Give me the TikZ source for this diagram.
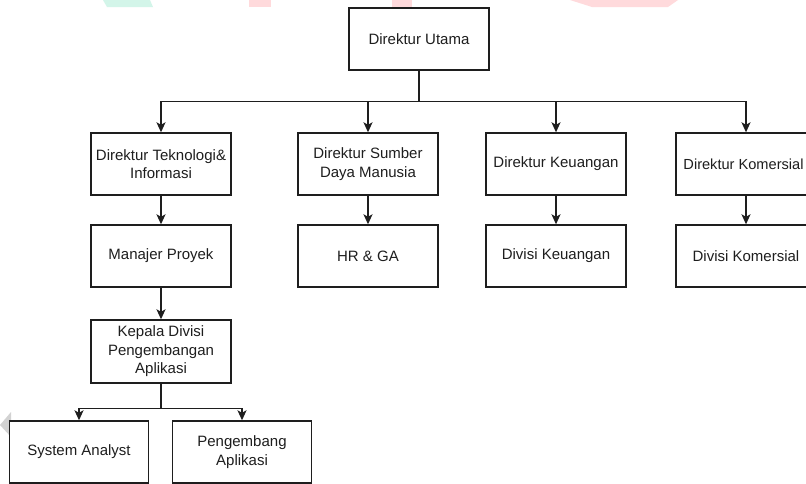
\documentclass[tikz,border=0pt]{standalone}
\usepackage{fontspec}
\setmainfont{Liberation Sans}
\usetikzlibrary{arrows.meta}
\definecolor{wmgreen}{HTML}{D3F5E9}
\definecolor{wmpink}{HTML}{FFDADC}
\definecolor{wmgrey}{HTML}{D2D2D2}
\definecolor{linec}{HTML}{1E1E1E}
\tikzset{
  orgbox/.style={draw=linec, line width=1.4pt, fill=white, minimum width=140pt, minimum height=62pt,
    align=center, inner sep=2pt, text=linec, font=\fontsize{15}{18.5}\selectfont},
  arr/.style={draw=linec, line width=1.4pt, -{Stealth[length=10pt,width=9pt,inset=2.5pt]}},
  ln/.style={draw=linec, line width=1.4pt}
}
\begin{document}
\begin{tikzpicture}[x=1pt,y=-1pt]
\useasboundingbox (0,0) rectangle (806,483);
\clip (0,0) rectangle (806,483);
\fill[white] (0,0) rectangle (806,483);
% faint watermark fragments
\fill[wmgreen] (103,0) -- (150,0) -- (153,7) -- (107,7) -- cycle;
\fill[wmpink] (249,0) rectangle (271,7);
\fill[wmpink] (392,0) rectangle (412,7);
\fill[wmpink] (570,0) -- (678,0) -- (668,7) -- (592,7) -- cycle;
\fill[wmgrey] (11,412) -- (0,425) -- (11,437) -- cycle;

\node[orgbox] (du) at (419,39) {Direktur Utama};

\node[orgbox] (dti) at (161,164) {Direktur Teknologi\&\\Informasi};
\node[orgbox] (dsdm) at (368,164) {Direktur Sumber\\Daya Manusia};
\node[orgbox] (dk) at (556,164) {Direktur Keuangan};
\node[orgbox] (dkom) at (746,164) {};
\node[text=linec, font=\fontsize{14.6}{18}\selectfont, inner sep=0pt] (dkomt) at (743.5,164) {Direktur Komersial};

\node[orgbox] (mp) at (161,256) {Manajer Proyek};
\node[orgbox] (hr) at (368,256) {HR \& GA};
\node[orgbox] (divk) at (556,256) {Divisi Keuangan};
\node[orgbox] (divkom) at (746,256) {Divisi Komersial};

\node[orgbox, minimum height=63pt] (kd) at (161,351.5) {Kepala Divisi\\Pengembangan\\Aplikasi};

\node[orgbox, minimum width=139pt] (sa) at (79,452) {System Analyst};
\node[orgbox, minimum width=139pt] (pa) at (242,452) {Pengembang\\Aplikasi};

\coordinate (bus) at ([yshift=-31pt]du.south);
\draw[ln] (du.south) -- (bus);
\draw[arr] (bus) -| (dti.north);
\draw[arr] (bus) -| (dsdm.north);
\draw[arr] (bus) -| (dk.north);
\draw[arr] (bus) -| (dkom.north);

\draw[arr] (dti.south) -- (mp.north);
\draw[arr] (dsdm.south) -- (hr.north);
\draw[arr] (dk.south) -- (divk.north);
\draw[arr] (dkom.south) -- (divkom.north);
\draw[arr] (mp.south) -- (kd.north);

\coordinate (bus2) at ([yshift=-25pt]kd.south);
\draw[ln] (kd.south) -- (bus2);
\draw[arr] (bus2) -| (sa.north);
\draw[arr] (bus2) -| (pa.north);
\end{tikzpicture}
\end{document}
